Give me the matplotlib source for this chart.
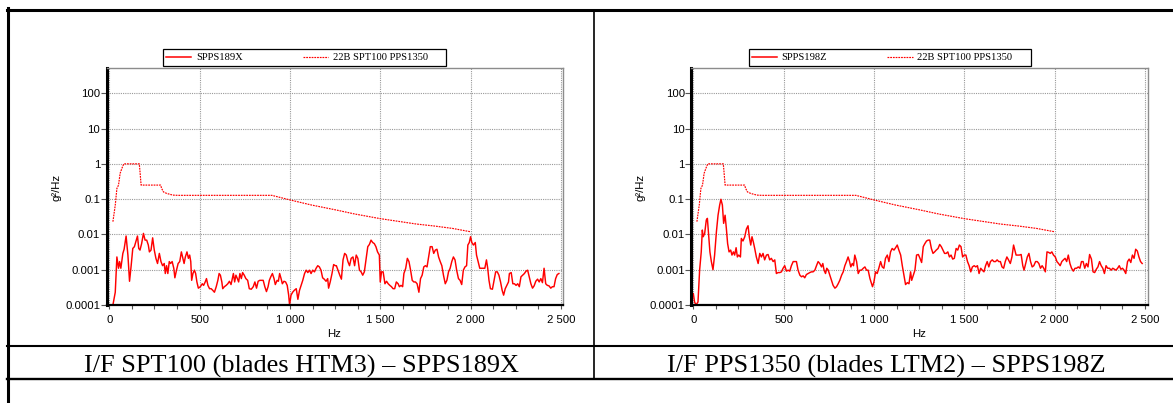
import matplotlib
matplotlib.use('Agg')
import matplotlib.pyplot as plt
from matplotlib.lines import Line2D
from matplotlib.patches import Rectangle
from matplotlib.ticker import FixedLocator, FixedFormatter, MultipleLocator, NullLocator

# ---- data (Hz, g2/Hz) ----
freq_189x = [
    20, 33, 42, 51, 57, 64, 75, 82, 93, 103,
    112, 121, 130, 139, 148, 156, 163, 170, 179, 189,
    198, 207, 216, 222, 231, 240, 249, 258, 267, 277,
    286, 295, 304, 310, 317, 324, 332, 339, 348, 357,
    363, 372, 381, 390, 399, 407, 414, 421, 430, 438,
    445, 451, 456, 463, 471, 478, 485, 493, 504, 515,
    522, 531, 538, 546, 555, 564, 573, 582, 592, 601,
    608, 615, 623, 628, 637, 647, 656, 665, 674, 679,
    687, 694, 701, 709, 716, 723, 731, 738, 747, 756,
    766, 775, 786, 797, 806, 815, 824, 833, 842, 852,
    861, 870, 879, 886, 894, 903, 912, 919, 929, 936,
    943, 951, 958, 967, 976, 985, 993, 998, 1006, 1015,
    1024, 1035, 1044, 1053, 1062, 1071, 1081, 1090, 1099, 1108,
    1117, 1126, 1136, 1145, 1154, 1163, 1172, 1181, 1190, 1200,
    1209, 1214, 1223, 1233, 1242, 1251, 1257, 1266, 1276, 1285,
    1294, 1303, 1312, 1321, 1330, 1339, 1349, 1358, 1367, 1376,
    1385, 1394, 1403, 1412, 1422, 1431, 1440, 1449, 1458, 1467,
    1476, 1485, 1495, 1500, 1507, 1516, 1526, 1535, 1544, 1553,
    1562, 1571, 1580, 1589, 1599, 1606, 1615, 1624, 1631, 1641,
    1650, 1659, 1668, 1677, 1686, 1695, 1704, 1714, 1723, 1732,
    1741, 1750, 1759, 1768, 1777, 1787, 1796, 1805, 1814, 1823,
    1832, 1841, 1850, 1860, 1869, 1878, 1887, 1896, 1905, 1914,
    1923, 1933, 1942, 1951, 1960, 1969, 1978, 1985, 1993, 2000,
    2007, 2016, 2026, 2033, 2042, 2051, 2060, 2069, 2079, 2088,
    2095, 2102, 2110, 2121, 2130, 2139, 2148, 2157, 2166, 2175,
    2183, 2192, 2201, 2210, 2215, 2225, 2234, 2243, 2252, 2261,
    2270, 2279, 2288, 2298, 2307, 2316, 2325, 2334, 2343, 2352,
    2361, 2371, 2380, 2389, 2398, 2407, 2416, 2425, 2434, 2444,
    2453, 2462, 2471, 2480, 2489,
]
psd_189x = [
    0.0001, 0.00023, 0.0023, 0.0011, 0.0017, 0.0011, 0.0029, 0.0038, 0.009, 0.0026,
    0.00047, 0.0013, 0.004, 0.0045, 0.0065, 0.009, 0.004, 0.0036, 0.0055, 0.0107,
    0.0069, 0.0069, 0.005, 0.0032, 0.0036, 0.008, 0.0036, 0.0021, 0.0015, 0.0029,
    0.0017, 0.0013, 0.0015, 0.00078, 0.0013, 0.00078, 0.0017, 0.0015, 0.0017, 0.0011,
    0.00059, 0.00097, 0.0015, 0.0017, 0.0032, 0.0021, 0.0015, 0.0023, 0.0032, 0.0021,
    0.0026, 0.0017, 0.0005, 0.00078, 0.00097, 0.00078, 0.00045, 0.0003, 0.00033, 0.0004,
    0.00036, 0.00045, 0.00056, 0.00036, 0.00029, 0.00029, 0.00026, 0.00023, 0.00033, 0.0005,
    0.00078, 0.0007, 0.00045, 0.00029, 0.00033, 0.00036, 0.0004, 0.00047, 0.00038, 0.0005,
    0.00078, 0.00045, 0.0007, 0.00056, 0.00045, 0.00078, 0.00056, 0.00083, 0.0007, 0.00056,
    0.0005, 0.00029, 0.00028, 0.00033, 0.00045, 0.0003, 0.00047, 0.0005, 0.0005, 0.0005,
    0.00033, 0.00024, 0.00033, 0.0005, 0.00063, 0.00078, 0.00056, 0.00038, 0.0005, 0.00047,
    0.00078, 0.00056, 0.0004, 0.00047, 0.00045, 0.00036, 0.00019, 0.0001, 0.00019, 0.00023,
    0.00026, 0.00029, 0.000145, 0.00026, 0.00036, 0.0005, 0.00078, 0.00097, 0.00083, 0.00097,
    0.00078, 0.00097, 0.00087, 0.0011, 0.0013, 0.0012, 0.00097, 0.00059, 0.00054, 0.00047,
    0.00056, 0.0003, 0.00045, 0.00078, 0.0014, 0.0013, 0.0013, 0.00097, 0.0007, 0.00054,
    0.0019, 0.0029, 0.0026, 0.0017, 0.0013, 0.0021, 0.0023, 0.0013, 0.0026, 0.0021,
    0.00097, 0.00087, 0.0007, 0.00087, 0.0021, 0.0045, 0.0052, 0.0069, 0.0059, 0.0055,
    0.0045, 0.0032, 0.0026, 0.00045, 0.00087, 0.00087, 0.0004, 0.00047, 0.0004, 0.00036,
    0.00033, 0.00029, 0.00029, 0.00045, 0.0004, 0.00033, 0.00036, 0.00033, 0.00078, 0.0011,
    0.0021, 0.0017, 0.00097, 0.0005, 0.00045, 0.00045, 0.0004, 0.00023, 0.00056, 0.0007,
    0.0012, 0.0013, 0.0012, 0.0023, 0.0045, 0.0045, 0.0029, 0.0036, 0.0038, 0.0023,
    0.0017, 0.0013, 0.0007, 0.0004, 0.0005, 0.00087, 0.0011, 0.0017, 0.0023, 0.0019,
    0.00097, 0.00056, 0.0005, 0.00038, 0.00097, 0.0012, 0.0013, 0.005, 0.0059, 0.0086,
    0.0059, 0.005, 0.0059, 0.0026, 0.0017, 0.0011, 0.0011, 0.0011, 0.0011, 0.0019,
    0.0011, 0.0005, 0.00029, 0.00028, 0.0005, 0.00087, 0.00087, 0.0007, 0.00045, 0.00026,
    0.00019, 0.00029, 0.00036, 0.00045, 0.00078, 0.00083, 0.0004, 0.0004, 0.00036, 0.0004,
    0.00033, 0.00063, 0.0007, 0.00078, 0.00091, 0.00097, 0.00063, 0.0004, 0.0003, 0.00035,
    0.00047, 0.00054, 0.00045, 0.00056, 0.00043, 0.0011, 0.0004, 0.00036, 0.00035, 0.0003,
    0.00033, 0.00033, 0.00056, 0.00073, 0.00078,
]

freq_198z = [
    0, 7, 15, 26, 35, 44, 50, 55, 63, 72,
    78, 85, 92, 100, 109, 118, 128, 137, 146, 153,
    161, 168, 176, 183, 190, 198, 207, 214, 222, 229,
    237, 244, 251, 261, 266, 275, 285, 294, 303, 310,
    318, 325, 333, 340, 349, 359, 368, 377, 386, 395,
    405, 414, 423, 432, 442, 451, 460, 469, 479, 488,
    497, 506, 516, 525, 534, 543, 553, 562, 571, 580,
    590, 599, 608, 617, 626, 636, 645, 654, 663, 673,
    682, 691, 700, 710, 717, 724, 732, 739, 747, 756,
    765, 774, 784, 793, 802, 811, 821, 830, 839, 848,
    857, 865, 872, 880, 887, 894, 904, 913, 922, 931,
    941, 950, 959, 968, 978, 987, 992, 1000, 1009, 1018,
    1027, 1037, 1046, 1055, 1064, 1074, 1083, 1092, 1101, 1111,
    1120, 1129, 1138, 1148, 1157, 1166, 1175, 1185, 1194, 1203,
    1209, 1218, 1227, 1236, 1246, 1255, 1264, 1273, 1282, 1291,
    1300, 1309, 1318, 1327, 1336, 1345, 1355, 1364, 1373, 1382,
    1391, 1400, 1409, 1418, 1427, 1436, 1445, 1455, 1464, 1473,
    1482, 1491, 1500, 1509, 1518, 1527, 1536, 1545, 1555, 1564,
    1573, 1582, 1591, 1600, 1609, 1618, 1627, 1636, 1645, 1655,
    1664, 1673, 1682, 1691, 1700, 1709, 1718, 1727, 1736, 1745,
    1755, 1764, 1773, 1780, 1787, 1796, 1805, 1815, 1824, 1831,
    1840, 1849, 1858, 1867, 1876, 1885, 1895, 1904, 1913, 1922,
    1931, 1940, 1949, 1958, 1967, 1976, 1985, 1994, 2004, 2013,
    2022, 2031, 2040, 2049, 2058, 2067, 2076, 2085, 2094, 2104,
    2113, 2122, 2131, 2140, 2149, 2158, 2167, 2176, 2185, 2194,
    2204, 2213, 2222, 2231, 2240, 2249, 2258, 2267, 2276, 2285,
    2294, 2304, 2313, 2322, 2331, 2340, 2349, 2358, 2367, 2376,
    2385, 2394, 2404, 2413, 2422, 2431, 2440, 2449, 2458, 2467,
    2476, 2485,
]
psd_198z = [
    0.00021, 0.000122, 0.0001, 0.000122, 0.00097, 0.0032, 0.0133, 0.0086, 0.0107, 0.0256,
    0.0285, 0.0096, 0.0032, 0.0017, 0.001, 0.0026, 0.0119, 0.035, 0.068, 0.099,
    0.068, 0.0206, 0.035, 0.0148, 0.0055, 0.0032, 0.0036, 0.0026, 0.0032, 0.0026,
    0.0042, 0.0023, 0.0026, 0.0023, 0.0077, 0.0065, 0.0086, 0.0142, 0.0176, 0.0086,
    0.005, 0.0086, 0.0059, 0.004, 0.0023, 0.0015, 0.0029, 0.0023, 0.0029, 0.0019,
    0.0026, 0.0027, 0.0019, 0.0021, 0.0017, 0.0019, 0.00078, 0.00083, 0.00083, 0.00087,
    0.0011, 0.0013, 0.00091, 0.00097, 0.00091, 0.0013, 0.0017, 0.0017, 0.0017, 0.00097,
    0.0007, 0.00063, 0.00067, 0.00059, 0.00073, 0.00078, 0.00083, 0.00087, 0.00087, 0.00097,
    0.0013, 0.0017, 0.0015, 0.0012, 0.0015, 0.00097, 0.00078, 0.0011, 0.00097, 0.0007,
    0.0005, 0.00036, 0.0003, 0.00033, 0.0004, 0.0005, 0.0007, 0.00087, 0.0013, 0.0017,
    0.0023, 0.0017, 0.0012, 0.0015, 0.0013, 0.0026, 0.0017, 0.00078, 0.00097, 0.00097,
    0.0011, 0.0012, 0.00097, 0.00097, 0.00056, 0.0004, 0.00033, 0.00045, 0.00087, 0.00078,
    0.0011, 0.0017, 0.0012, 0.0011, 0.0021, 0.0026, 0.0017, 0.0032, 0.004, 0.0036,
    0.0042, 0.005, 0.0036, 0.0026, 0.0013, 0.0007, 0.00038, 0.00043, 0.0004, 0.00087,
    0.0005, 0.0007, 0.00097, 0.0026, 0.0027, 0.0021, 0.0016, 0.0045, 0.0055, 0.0065,
    0.0069, 0.0069, 0.004, 0.0029, 0.0032, 0.0036, 0.004, 0.0052, 0.0045, 0.0036,
    0.0029, 0.0029, 0.0032, 0.0023, 0.0026, 0.002, 0.0021, 0.004, 0.0036, 0.005,
    0.0045, 0.0023, 0.0026, 0.0026, 0.0017, 0.0013, 0.00087, 0.0012, 0.0013, 0.0012,
    0.0013, 0.00078, 0.0011, 0.00097, 0.00087, 0.0013, 0.0017, 0.0012, 0.0017, 0.0019,
    0.0017, 0.0017, 0.0019, 0.0017, 0.0017, 0.0012, 0.0011, 0.0017, 0.0023, 0.0019,
    0.0015, 0.0023, 0.005, 0.0036, 0.0026, 0.0026, 0.0026, 0.0027, 0.0013, 0.00097,
    0.0015, 0.0023, 0.0029, 0.0017, 0.0012, 0.0013, 0.0017, 0.0017, 0.0015, 0.0011,
    0.0013, 0.0011, 0.00087, 0.0032, 0.0031, 0.0029, 0.0032, 0.0026, 0.0023, 0.0017,
    0.0015, 0.0013, 0.0017, 0.0019, 0.0021, 0.0017, 0.0026, 0.0015, 0.0011, 0.00091,
    0.0011, 0.0011, 0.0012, 0.0011, 0.0017, 0.0017, 0.0011, 0.0015, 0.0012, 0.0027,
    0.002, 0.00087, 0.00083, 0.00103, 0.0012, 0.0017, 0.0013, 0.0011, 0.00078, 0.0013,
    0.0011, 0.0011, 0.00097, 0.0011, 0.00103, 0.00097, 0.0011, 0.0013, 0.00103, 0.0011,
    0.00097, 0.00078, 0.0017, 0.002, 0.0016, 0.0026, 0.0021, 0.0038, 0.0034, 0.0023,
    0.0017, 0.0015,
]

# qualification spectrum (same on both charts)
spec_freq = [20, 33, 42, 51, 60, 70, 80, 166, 170, 176, 284, 290, 300, 318, 352, 380,
             900, 1000, 1120, 1250, 1358, 1500, 1700, 1800, 1900, 2000]
spec_psd = [0.023, 0.068, 0.2, 0.25, 0.54, 0.75, 1.0, 1.0, 0.6, 0.25, 0.25, 0.2, 0.16, 0.145, 0.13, 0.128,
            0.128, 0.095, 0.068, 0.05, 0.038, 0.028, 0.0197, 0.0173, 0.0148, 0.0119]

x_ticks = [0, 500, 1000, 1500, 2000, 2500]
x_tick_labels = ['0', '500', '1 000', '1 500', '2 000', '2 500']
y_ticks = [0.0001, 0.001, 0.01, 0.1, 1, 10, 100]
y_tick_labels = ['0.0001', '0.001', '0.01', '0.1', '1', '10', '100']

spec_name = '22B SPT100 PPS1350'
captions = ['I/F SPT100 (blades HTM3) \u2013 SPPS189X', 'I/F PPS1350 (blades LTM2) \u2013 SPPS198Z']

W, H = 1173, 403
fig = plt.figure(figsize=(W / 100, H / 100), dpi=100)


def fx(px):
    return px / W


def fy(py):
    return 1 - py / H


sans = 'Liberation Sans'
serif = 'Liberation Serif'
rouge = '#ff0000'


def panel(x0, x1, xlim, freq, psd, name, leg_box, leg_x):
    ax = fig.add_axes([fx(x0), fy(305), fx(x1 - x0), (305 - 68.3) / H])
    ax.set_yscale('log')
    ax.plot(freq, psd, color=rouge, lw=1.05)
    ax.plot(spec_freq, spec_psd, color=rouge, lw=0.85, ls=(0, (1.5, 0.8)))
    ax.set_xlim(*xlim)
    ax.set_ylim(1e-4, 510)

    ax.xaxis.set_major_locator(FixedLocator(x_ticks))
    ax.xaxis.set_major_formatter(FixedFormatter(x_tick_labels))
    ax.xaxis.set_minor_locator(MultipleLocator(125))
    ax.yaxis.set_major_locator(FixedLocator(y_ticks))
    ax.yaxis.set_major_formatter(FixedFormatter(y_tick_labels))
    ax.yaxis.set_minor_locator(NullLocator())

    ax.tick_params(axis='x', which='both', direction='out', length=3, width=0.8,
                   color='#555555', pad=4, labelsize=8.2)
    ax.tick_params(axis='y', direction='out', length=4, width=0.8,
                   color='#555555', pad=0.5, labelsize=8.2)
    for lab in ax.get_xticklabels() + ax.get_yticklabels():
        lab.set_fontfamily(sans)

    ax.grid(True, which='major', color='#999999', lw=0.8, ls=(0, (1, 1)))

    ax.spines['left'].set_linewidth(2.2)
    ax.spines['bottom'].set_linewidth(1.6)
    for s in ('top', 'right'):
        ax.spines[s].set_color('#8c8c8c')
        ax.spines[s].set_linewidth(1.0)
        ax.spines[s].set_linestyle((0, (1, 1)))

    # axis titles
    fig.text(fx(x0 - 50), fy(187), 'g\u00b2/Hz', rotation=90, ha='center', va='center',
             fontsize=8.2, family=sans)
    fig.text(fx((x0 + x1) / 2), fy(334), 'Hz', ha='center', va='center',
             fontsize=8.2, family=sans)

    # legend above the plot
    handles = [Line2D([], [], color=rouge, lw=1.1),
               Line2D([], [], color=rouge, lw=0.85, ls=(0, (1.5, 0.8)))]
    ax.legend(handles, [name, spec_name], ncol=2, loc='center left',
              bbox_to_anchor=(fx(leg_x), fy(57.7)), bbox_transform=fig.transFigure,
              frameon=False, borderpad=0, borderaxespad=0, handlelength=2.4,
              handletextpad=0.45, columnspacing=5.7,
              prop={'family': serif, 'size': 7.6})
    bx0, bx1 = leg_box
    fig.add_artist(Rectangle((fx(bx0), fy(66)), fx(bx1 - bx0), (66 - 49.3) / H,
                             transform=fig.transFigure, fill=False, ec='black', lw=0.9))
    return ax


panel(106.5, 562.5, (-15.5, 2509), freq_189x, psd_189x, 'SPPS189X', (163, 446), 166)
panel(691, 1147.6, (-12.7, 2515), freq_198z, psd_198z, 'SPPS198Z', (748.7, 1031), 751.5)

# table borders around the figures
def hline(y, xa, xb, lw):
    fig.add_artist(Line2D([fx(xa), fx(xb)], [fy(y), fy(y)], color='black', lw=lw,
                          transform=fig.transFigure))


def vline(x, ya, yb, lw):
    fig.add_artist(Line2D([fx(x), fx(x)], [fy(ya), fy(yb)], color='black', lw=lw,
                          transform=fig.transFigure))


hline(9.5, 6.8, W, 2.2)
hline(346.3, 6.8, W, 1.5)
hline(378.8, 6.8, W, 1.7)
vline(8.3, 8.4, H, 2.2)
vline(594.2, 9.5, 378.8, 1.2)

fig.text(fx(301), fy(372.5), captions[0], ha='center', va='baseline', fontsize=18.9, family=serif)
fig.text(fx(886), fy(372.5), captions[1], ha='center', va='baseline', fontsize=18.9, family=serif)

fig.savefig('out.png', dpi=100)
